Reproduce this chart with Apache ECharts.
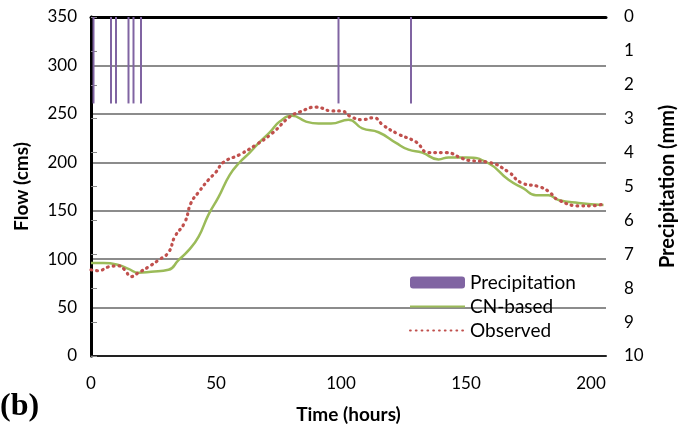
<!DOCTYPE html>
<html>
<head>
<meta charset="utf-8">
<script src="https://cdn.jsdelivr.net/npm/echarts@6/dist/echarts.min.js"></script>
<style>
html,body{margin:0;padding:0;background:#fff;}
#main{width:679px;height:433px;}
</style>
</head>
<body>
<div id="main"></div>
<script>
// precipitation (mm), hours
var rainHours = [1, 8, 10, 15, 17, 20, 99, 128];
var rainValues = [2.55, 2.55, 2.55, 2.55, 2.55, 2.55, 2.55, 2.55];
// CN-based simulated flow
var cnHours = [0, 5, 11, 15, 19, 24, 31, 35, 39, 43, 47, 51, 55.5, 59.5, 63.5, 67.5, 71.5, 75.5, 80.5, 86, 91, 96, 103, 108.5, 115, 122, 127, 132.5, 139, 143, 150, 159, 167, 173, 178, 183, 187, 195, 205];
var cnFlow = [96, 96, 94, 90, 86, 87, 89, 99, 109, 123, 146, 164, 187, 200, 210, 221, 231, 242, 248, 242, 240, 240, 244, 235, 231, 220, 213, 210, 203, 205, 205, 199, 182, 173, 166, 166, 161, 158, 156];
// observed flow
var obsHours = [0, 3, 7, 11, 13.5, 16, 19, 23, 27, 31, 33.5, 37.5, 40, 43, 47, 50, 53, 59.5, 66, 72.5, 79.5, 83.5, 90, 96.5, 100, 104, 108.5, 113, 117, 123, 130, 135, 142, 148.5, 151, 159, 167, 172, 179, 183, 187, 196, 200, 205];
var obsFlow = [89, 88, 92, 93, 89, 82, 86, 92, 99, 107, 123, 138, 158, 169, 182, 190, 200, 208, 218, 230, 247, 252, 257, 253, 253, 247, 244, 246, 238, 229, 221, 210, 210, 204, 202, 200, 190, 179, 175, 170, 161, 155, 155, 157];

function pairs(xs, ys){
	var out = [];
	for (var i = 0; i < xs.length; i++) out.push([xs[i], ys[i]]);
	return out;
}

var font = 'Lato, "Open Sans", sans-serif';
var noDot = {color: 'rgba(0,0,0,0)', borderColor: 'rgba(0,0,0,0)', borderWidth: 0};
var myChart = echarts.init(document.getElementById('main'));
var option = {
	animation: false,
	grid: {left: 91, right: 73, top: 17, bottom: 77, outerBoundsMode: 'none'},
	legend: {
		orient: 'vertical',
		left: 404,
		top: 268,
		itemWidth: 55,
		itemHeight: 12,
		itemGap: 5,
		textStyle: {color: '#000', fontSize: 19, fontFamily: font},
		data: [
			{name: 'Precipitation'},
			{name: 'CN-based', itemStyle: noDot},
			{name: 'Observed', itemStyle: noDot}
		]
	},
	xAxis: [{
		type: 'value',
		min: 0,
		max: 206,
		interval: 50,
		name: 'Time (hours)',
		nameLocation: 'middle',
		nameGap: 49,
		nameTextStyle: {color: '#000', fontSize: 19, fontWeight: 'bold', fontFamily: font},
		axisLine: {lineStyle: {color: '#222', width: 2}},
		axisTick: {show: false},
		axisLabel: {color: '#000', fontSize: 17, fontFamily: font, margin: 19, showMaxLabel: false},
		splitLine: {show: false}
	}, {
		type: 'value',
		min: 0,
		max: 206,
		position: 'top',
		axisLine: {show: true, lineStyle: {color: '#000', width: 3}},
		axisTick: {show: false},
		axisLabel: {show: false},
		splitLine: {show: false}
	}],
	yAxis: [{
		type: 'value',
		min: 0,
		max: 350,
		interval: 50,
		name: 'Flow (cms)',
		nameLocation: 'middle',
		nameGap: 60,
		nameTextStyle: {color: '#000', fontSize: 19, fontWeight: 'bold', fontFamily: font},
		axisLine: {show: true, lineStyle: {color: '#999', width: 3}},
		axisTick: {show: false},
		axisLabel: {color: '#000', fontSize: 17, fontFamily: font, margin: 14},
		splitLine: {lineStyle: {color: '#8c8c8c', width: 2}}
	}, {
		type: 'value',
		min: 0,
		max: 10,
		interval: 1,
		inverse: true,
		position: 'right',
		name: 'Precipitation (mm)',
		nameLocation: 'middle',
		nameGap: 52,
		nameRotate: 90,
		nameTextStyle: {color: '#000', fontSize: 20, fontWeight: 'bold', fontFamily: font},
		axisLine: {show: true, lineStyle: {color: '#000', width: 3}},
		axisTick: {show: true, length: 6, lineStyle: {color: '#888', width: 1}},
		axisLabel: {color: '#000', fontSize: 17, fontFamily: font, margin: 18},
		splitLine: {show: false}
	}],
	series: [{
		name: 'Precipitation',
		type: 'bar',
		yAxisIndex: 1,
		barWidth: 2,
		itemStyle: {color: '#8064A2'},
		data: pairs(rainHours, rainValues)
	}, {
		name: 'CN-based',
		type: 'line',
		smooth: true,
		symbol: 'none',
		lineStyle: {color: '#9BBB59', width: 2.5},
		itemStyle: {color: '#9BBB59'},
		data: pairs(cnHours, cnFlow)
	}, {
		name: 'Observed',
		type: 'line',
		smooth: true,
		symbol: 'none',
		lineStyle: {color: '#C0504D', width: 3.2, type: [0.8, 5], cap: 'round'},
		itemStyle: {color: '#C0504D'},
		data: pairs(obsHours, obsFlow)
	}],
	graphic: [{
		type: 'text',
		left: 0,
		top: 391,
		style: {text: '(b)', fontSize: 32, fontWeight: 'bold', fontFamily: '"Liberation Serif", "DejaVu Serif", serif', fill: '#000'}
	}]
};
myChart.setOption(option);
</script>
</body>
</html>
